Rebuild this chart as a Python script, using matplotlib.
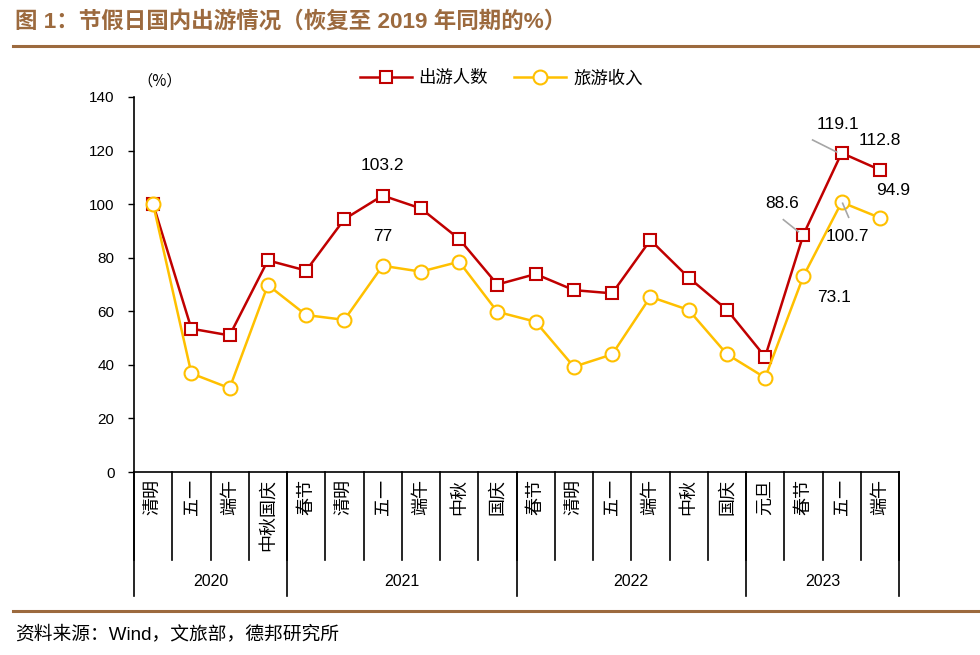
import matplotlib.pyplot as plt
import matplotlib.transforms as mtransforms

plt.rcParams['font.family'] = ['Liberation Sans', 'Noto Sans CJK SC', 'DejaVu Sans']

# 节假日与年份
holidays = ["清明", "五一", "端午", "中秋国庆",
            "春节", "清明", "五一", "端午", "中秋", "国庆",
            "春节", "清明", "五一", "端午", "中秋", "国庆",
            "元旦", "春节", "五一", "端午"]
years = ["2020", "2021", "2022", "2023"]
year_counts = [4, 6, 6, 4]

# 恢复至2019年同期的%
trips = [100, 53.5, 51, 79, 75.2, 94.4, 103.2, 98.4, 87, 70,
         73.9, 67.9, 66.7, 86.6, 72.6, 60.6, 43, 88.6, 119.1, 112.8]
revenue = [100, 36.8, 31.3, 69.8, 58.6, 56.8, 77, 74.8, 78.5, 59.8,
           56.1, 39.3, 43.9, 65.4, 60.5, 44, 35.2, 73.1, 100.7, 94.9]

red = '#c00000'
yellow = '#ffc000'
brown = '#9c6a3e'

fig = plt.figure(figsize=(9.8, 6.55), dpi=100)
ax = fig.add_axes([134 / 980, 183 / 655, 765 / 980, 375 / 655])

x = list(range(len(holidays)))
ax.plot(x, trips, color=red, lw=1.8, marker='s', ms=9, mfc='white',
        mec=red, mew=1.5, label='出游人数', zorder=3)
ax.plot(x, revenue, color=yellow, lw=1.8, marker='o', ms=10, mfc='white',
        mec=yellow, mew=1.5, label='旅游收入', zorder=4)

ax.set_xlim(-0.5, len(holidays) - 0.5)
ax.set_ylim(0, 140)
ax.set_yticks(range(0, 141, 20))
ax.tick_params(axis='y', direction='out', length=4, width=1, pad=10, labelsize=11)
ax.set_xticks([])
for s in ['top', 'right']:
    ax.spines[s].set_visible(False)
for s in ['left', 'bottom']:
    ax.spines[s].set_linewidth(1.2)

# 横轴两级标签
trans = mtransforms.blended_transform_factory(ax.transData, ax.transAxes)
for i, h in enumerate(holidays):
    ax.text(i, -0.018, h, transform=trans, ha='center', va='top', rotation=90,
            fontsize=13, family=['Noto Sans CJK SC'])
for i in range(len(holidays) + 1):
    ax.plot([i - 0.5, i - 0.5], [0, -0.235], transform=trans, color='black',
            lw=1.2, clip_on=False)
start = 0
for yr, n in zip(years, year_counts):
    ax.plot([start - 0.5, start - 0.5], [0, -0.33], transform=trans,
            color='black', lw=1.2, clip_on=False)
    ax.text(start + n / 2 - 0.5, -0.293, yr, transform=trans, ha='center',
            va='center', fontsize=11.5)
    start += n
ax.plot([start - 0.5, start - 0.5], [0, -0.33], transform=trans,
        color='black', lw=1.2, clip_on=False)

# 数据标签
labels = [
    (6, trips[6], '103.2', (0, 30)),
    (6, revenue[6], '77', (0, 29)),
    (17, trips[17], '88.6', (-21, 31)),
    (18, trips[18], '119.1', (-4, 28)),
    (19, trips[19], '112.8', (0, 29)),
    (19, revenue[19], '94.9', (13, 27)),
    (18, revenue[18], '100.7', (6, -34)),
    (17, revenue[17], '73.1', (31, -21)),
]
for xi, yi, txt, off in labels:
    ax.annotate(txt, (xi, yi), xytext=off, textcoords='offset pixels',
                ha='center', va='center', fontsize=12.5)

# 引导线
leaders = [
    (17, trips[17], (-20, 15), (-5, 3)),
    (18, trips[18], (-29, 13), (-5, 1)),
    (18, revenue[18], (1, -1), (7, -15)),
]
inv = ax.transData.inverted()
for xi, yi, a, b in leaders:
    p = ax.transData.transform((xi, yi))
    p1 = inv.transform((p[0] + a[0], p[1] + a[1]))
    p2 = inv.transform((p[0] + b[0], p[1] + b[1]))
    ax.plot([p1[0], p2[0]], [p1[1], p2[1]], color='#a6a6a6', lw=1.2, zorder=5)

ax.text((160 - 134) / 765, 1 + (97 - 81) / 375, '（%）', transform=ax.transAxes,
        ha='center', va='center', fontsize=11, family=['Noto Sans CJK SC'])

ax.legend(loc='center', bbox_to_anchor=(0.48, 1.05), ncol=2, frameon=False,
          handlelength=3.0, columnspacing=1.5, handletextpad=0.4,
          prop={'family': 'Noto Sans CJK SC', 'size': 12.5})

# 标题与来源
fig.text(15 / 980, 1 - 22 / 655, '图 1：节假日国内出游情况（恢复至 2019 年同期的%）',
         ha='left', va='center', fontsize=16.2, fontweight='bold', color=brown)
fig.add_artist(plt.Line2D([13 / 980, 1], [1 - 46 / 655] * 2, color=brown, lw=2.2))
fig.add_artist(plt.Line2D([13 / 980, 1], [1 - 611 / 655] * 2, color=brown, lw=2.2))
fig.text(15 / 980, 1 - 634 / 655, '资料来源：Wind，文旅部，德邦研究所',
         ha='left', va='center', fontsize=13.5)

fig.savefig('out.png', dpi=100)
